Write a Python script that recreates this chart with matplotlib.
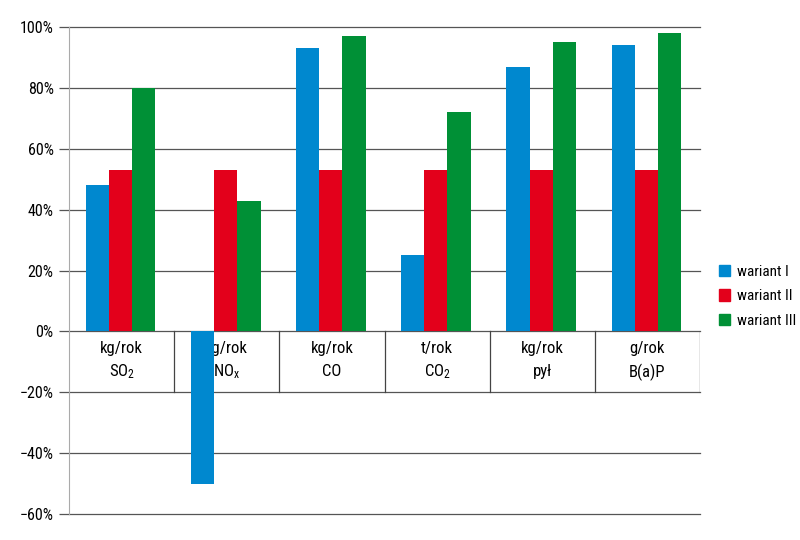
import numpy as np
import matplotlib
matplotlib.use("Agg")
import matplotlib.pyplot as plt
from matplotlib.patches import Patch
from matplotlib import font_manager as fm

units = ["kg/rok", "kg/rok", "kg/rok", "t/rok", "kg/rok", "g/rok"]
pollutants = [r"$\mathregular{SO_2}$", r"$\mathregular{NO_x}$", "CO",
              r"$\mathregular{CO_2}$", "pył", "B(a)P"]
series_names = ["wariant I", "wariant II", "wariant III"]
wariant_1 = [48, -50, 93, 25, 87, 94]
wariant_2 = [53, 53, 53, 53, 53, 53]
wariant_3 = [80, 43, 97, 72, 95, 98]
yticks = [-60, -40, -20, 0, 20, 40, 60, 80, 100]

colors = ["#0088cf", "#e3001b", "#009036"]

# narrow sans like the original, falling back to the standard ones
installed = {f.name for f in fm.fontManager.ttflist}
wanted = ["Roboto Condensed", "Archivo Narrow", "Liberation Sans Narrow", "Liberation Sans"]
families = [f for f in wanted if f in installed] + ["DejaVu Sans"]
plt.rcParams["font.family"] = families
plt.rcParams["mathtext.fontset"] = "custom"
plt.rcParams["mathtext.rm"] = families[0]
plt.rcParams["mathtext.default"] = "regular"

fig = plt.figure(figsize=(8, 5.4), dpi=100)
ax = fig.add_axes([0.08625, 0.0481, 0.78875, 0.9019])

n = len(units)
x = np.arange(n) + 0.5
width = 0.222
offsets = [-0.23, -0.01, 0.21]
for vals, off, col, name in zip([wariant_1, wariant_2, wariant_3], offsets, colors, series_names):
    ax.bar(x + off, vals, width, color=col, label=name, zorder=3, linewidth=0)

ax.set_xlim(0, n)
ax.set_ylim(-60, 100)
ax.set_yticks(yticks)
ax.set_yticklabels([f"\u2212{abs(t)}%" if t < 0 else f"{t}%" for t in yticks], fontsize=11.5)
ax.set_xticks([])

# gridlines
for t in yticks:
    ax.axhline(t, color="#555555", lw=0.9, zorder=1, clip_on=False)

# category box under zero line
for i in range(1, n + 1):
    ax.plot([i, i], [0, -20], color="#444444", lw=0.9, zorder=1)
for i in range(n):
    ax.text(x[i], -5.5, units[i], ha="center", va="center", fontsize=12, zorder=2)
    ax.text(x[i], -13.3, pollutants[i], ha="center", va="center", fontsize=12, zorder=2)

for s in ["top", "right", "bottom"]:
    ax.spines[s].set_visible(False)
ax.spines["left"].set_color("#aaaaaa")
ax.tick_params(axis="y", length=7, color="#555555", width=0.9, pad=4)

handles = [Patch(color=c, label=nm) for c, nm in zip(colors, series_names)]
ax.legend(handles=handles, loc="center left", bbox_to_anchor=(1.02, 0.447),
          frameon=False, fontsize=11, handlelength=0.75, handleheight=0.75,
          labelspacing=0.7, handletextpad=0.45, borderaxespad=0)

fig.savefig("out.png", dpi=100)
